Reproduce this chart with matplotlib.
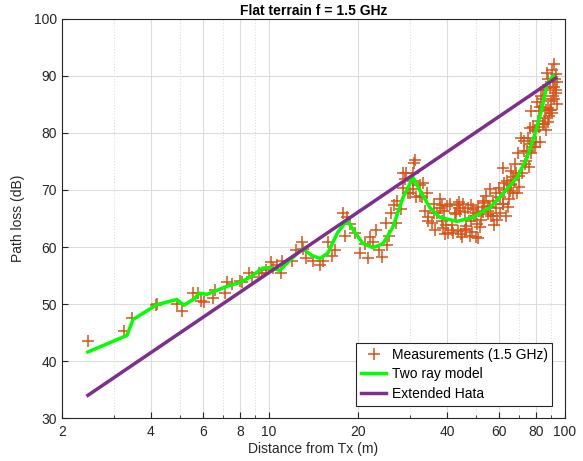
import matplotlib
matplotlib.use("Agg")
import matplotlib.pyplot as plt
from matplotlib.ticker import FixedLocator, NullFormatter

plt.rcParams['font.family'] = ['Liberation Sans', 'DejaVu Sans']

meas_d = [2.45, 3.25, 3.45, 4.15, 4.2, 4.9, 5.1, 5.55, 5.75, 5.9,
          6.05, 6.5, 6.6, 7.1, 7.2, 7.5, 8.0, 8.1, 8.6, 8.8,
          9.3, 9.5, 9.8, 10.2, 10.3, 10.7, 11.0, 11.1, 12.0, 12.4,
          12.9, 13.0, 13.4, 14.1, 14.9, 15.2, 15.8, 16.3, 16.7, 17.8,
          18.4, 18.1, 18.8, 19.6, 20.3, 21.1, 21.6, 21.9, 22.4, 23.1,
          23.6, 24.2, 25.1, 25.5, 24.9, 25.9, 26.9, 26.5, 27.9, 27.1,
          28.3, 29.1, 29.9, 30.6, 30.6, 31.5, 31.0, 31.2, 28.3, 29.5,
          28.9, 32.4, 33.2, 34.5, 36.0, 37.8, 38.4, 39.2,
          30.6, 32.4, 32.9, 34.2, 33.7, 34.5, 36.0, 35.6, 37.0, 37.9,
          38.5, 38.9, 41.0, 40.4, 42.0, 43.2, 44.2, 45.3, 45.9, 47.0,
          47.8, 48.9, 50.3, 50.7, 52.3, 53.5, 54.3, 55.8, 57.8, 58.7,
          60.2, 62.5, 61.7, 65.0, 66.6, 68.8, 41.5, 43.8, 46.5, 49.5,
          44.5, 42.8, 39.8, 52.0, 55.0, 56.5, 48.2, 53.0,
          36.5, 39.5, 41.5, 43.5, 44.8, 46.5, 48.5, 50.0, 51.5,
          40.0, 42.5, 44.0, 46.0, 48.0, 50.0, 51.0, 53.0, 55.0, 56.0,
          57.0, 59.0, 60.5, 63.0, 64.0,
          62.5, 64.5, 66.0, 67.5, 70.0, 71.5, 73.5, 74.5, 76.0, 78.0,
          79.0, 80.0, 81.5, 82.5, 84.5, 86.0, 87.5, 89.5, 91.0, 92.0,
          93.0, 94.0, 90.5, 88.0,
          92.0, 93.0, 89.0, 93.5, 90.0, 94.0, 88.0, 85.5, 84.0, 82.0,
          81.0, 79.5, 77.0, 76.5, 75.0, 73.0, 71.0, 72.5, 77.0, 69.5,
          68.0, 68.5, 65.5, 63.5, 62.0, 60.0, 58.5, 67.0, 57.0, 62.0,
          83.0, 86.0, 89.0, 91.0, 87.0, 80.5, 78.0, 74.0, 70.0, 66.0,
          91.5, 88.5, 86.5, 84.5, 92.5, 90.5, 79.0, 75.5, 82.5, 85.0]
meas_pl = [43.5, 45.3, 47.6, 49.9, 50.0, 50.0, 48.7, 52.0, 51.9, 50.6,
           50.3, 51.0, 52.4, 51.9, 53.8, 53.6, 54.1, 53.8, 55.4, 54.7,
           55.5, 55.4, 55.9, 57.3, 56.4, 56.8, 55.5, 57.6, 57.6, 59.4,
           60.8, 59.7, 58.0, 57.6, 56.8, 57.6, 60.8, 58.5, 59.4, 65.9,
           65.2, 62.0, 64.1, 62.4, 58.9, 60.6, 58.0, 61.7, 60.8, 62.9,
           59.4, 58.2, 60.3, 62.0, 64.3, 65.9, 64.3, 67.3, 66.7, 68.1,
           70.4, 73.0, 69.4, 70.2, 72.9, 68.7, 74.8, 75.3, 73.0, 69.5,
           72.0, 69.0, 71.3, 64.6, 66.0, 68.5, 67.3, 66.4,
           71.6, 70.8, 68.7, 69.5, 66.4, 65.2, 67.6, 64.3, 66.0, 66.9,
           64.6, 63.4, 67.6, 62.5, 62.4, 67.3, 66.4, 67.6, 62.9, 66.9,
           62.0, 66.7, 64.1, 61.5, 66.4, 67.8, 69.0, 70.2, 63.8, 66.9,
           68.7, 71.3, 67.6, 69.9, 72.2, 69.4, 63.0, 66.8, 63.6, 65.5,
           62.2, 65.8, 63.8, 64.8, 67.2, 65.4, 64.6, 68.0,
           63.0, 62.2, 63.8, 62.8, 61.8, 63.2, 62.6, 61.8, 63.5,
           67.2, 66.0, 67.9, 66.2, 67.4, 66.0, 67.0, 66.2, 65.8, 67.0,
           65.5, 64.8, 66.0, 65.5, 67.0,
           70.0, 68.5, 70.8, 71.8, 70.5, 73.0, 74.5, 76.8, 78.0, 77.5,
           80.5, 78.5, 81.0, 84.5, 86.0, 84.0, 89.5, 84.0, 86.5, 88.0,
           87.0, 89.0, 91.0, 82.0,
           92.1, 90.4, 87.9, 87.5, 85.6, 85.1, 84.4, 82.7, 81.6, 83.9,
           82.1, 80.4, 83.9, 80.9, 79.2, 78.6, 79.2, 76.9, 76.4, 76.4,
           74.6, 72.9, 73.4, 71.6, 73.9, 70.4, 69.4, 69.4, 68.1, 67.6,
           86.5, 88.0, 84.0, 89.0, 90.5, 85.5, 81.0, 75.0, 72.5, 71.0,
           86.0, 83.0, 80.5, 87.5, 89.5, 83.5, 77.5, 74.0, 78.5, 81.5]

# two ray model
tworay_d = [2.45, 3.32, 3.48, 4.19, 4.89, 5.17, 5.63, 5.81, 6.18, 7.22,
            7.99, 8.64, 9.55, 10.1, 10.9, 11.8, 13.0, 14.0, 14.9, 15.8,
            17.1, 18.4, 19.5, 20.8, 22.5, 24.3, 26.2, 28.4, 30.7, 32.4,
            35.0, 37.8, 43.2, 48.9, 55.8, 61.8, 68.9, 74.5, 79.3, 83.7,
            87.0, 91.2, 93.0]
tworay_pl = [41.6, 44.5, 47.3, 49.9, 50.8, 49.8, 51.0, 51.9, 51.7, 53.1,
             53.8, 54.7, 56.3, 56.4, 55.9, 57.7, 59.7, 58.5, 58.0, 58.9,
             62.6, 64.7, 62.6, 60.6, 59.9, 60.6, 63.4, 68.7, 72.2, 69.9,
             66.9, 65.2, 64.5, 65.2, 66.9, 69.4, 72.2, 75.7, 79.9, 84.4,
             88.6, 90.0, 89.5]

# extended Hata
hata_d = [2.45, 93.0]
hata_pl = [34.0, 89.6]

fig = plt.figure(figsize=(5.83, 4.61), dpi=100)
ax = fig.add_axes([0.106, 0.093, 0.863, 0.866])

ax.plot(meas_d, meas_pl, '+', color='#D95319', markersize=9, markeredgewidth=1.1,
        label='Measurements (1.5 GHz)')
ax.plot(tworay_d, tworay_pl, '-', color='#00FF00', linewidth=2.5, label='Two ray model')
ax.plot(hata_d, hata_pl, '-', color='#7E2F8E', linewidth=2.5, label='Extended Hata')

ax.set_xscale('log')
ax.set_xlim(2, 100)
ax.set_ylim(30, 100)
ax.xaxis.set_major_locator(FixedLocator([2, 4, 6, 8, 10, 20, 40, 60, 80, 100]))
ax.xaxis.set_minor_locator(FixedLocator([3, 5, 7, 9, 30, 50, 70, 90]))
ax.xaxis.set_minor_formatter(NullFormatter())
ax.set_xticklabels(['2', '4', '6', '8', '10', '20', '40', '60', '80', '100'])
ax.set_yticks(range(30, 101, 10))

ax.grid(True, which='major', color='#dddddd', linewidth=0.8)
ax.grid(True, which='minor', axis='x', color='#dddddd', linewidth=0.8, linestyle=':')
ax.set_axisbelow(True)
ax.tick_params(which='both', direction='in', colors='#262626', labelsize=10)
ax.tick_params(which='major', length=4)
ax.tick_params(which='minor', length=2)
ax.tick_params(axis='x', which='major', pad=5)
for s in ax.spines.values():
    s.set_color('#262626')
    s.set_linewidth(0.8)

ax.set_xlabel('Distance from Tx (m)', fontsize=10, color='#262626', labelpad=2)
ax.set_ylabel('Path loss (dB)', fontsize=10, color='#262626', labelpad=6)
ax.set_title('Flat terrain f = 1.5 GHz', fontsize=10, fontweight='bold', pad=3)

leg = ax.legend(loc='lower right', fontsize=10, fancybox=False, edgecolor='#262626',
                framealpha=1, borderaxespad=0.9, handlelength=1.8, handletextpad=0.4,
                labelspacing=0.4, borderpad=0.35)
leg.get_frame().set_linewidth(0.8)

fig.savefig('out.png', dpi=100)
